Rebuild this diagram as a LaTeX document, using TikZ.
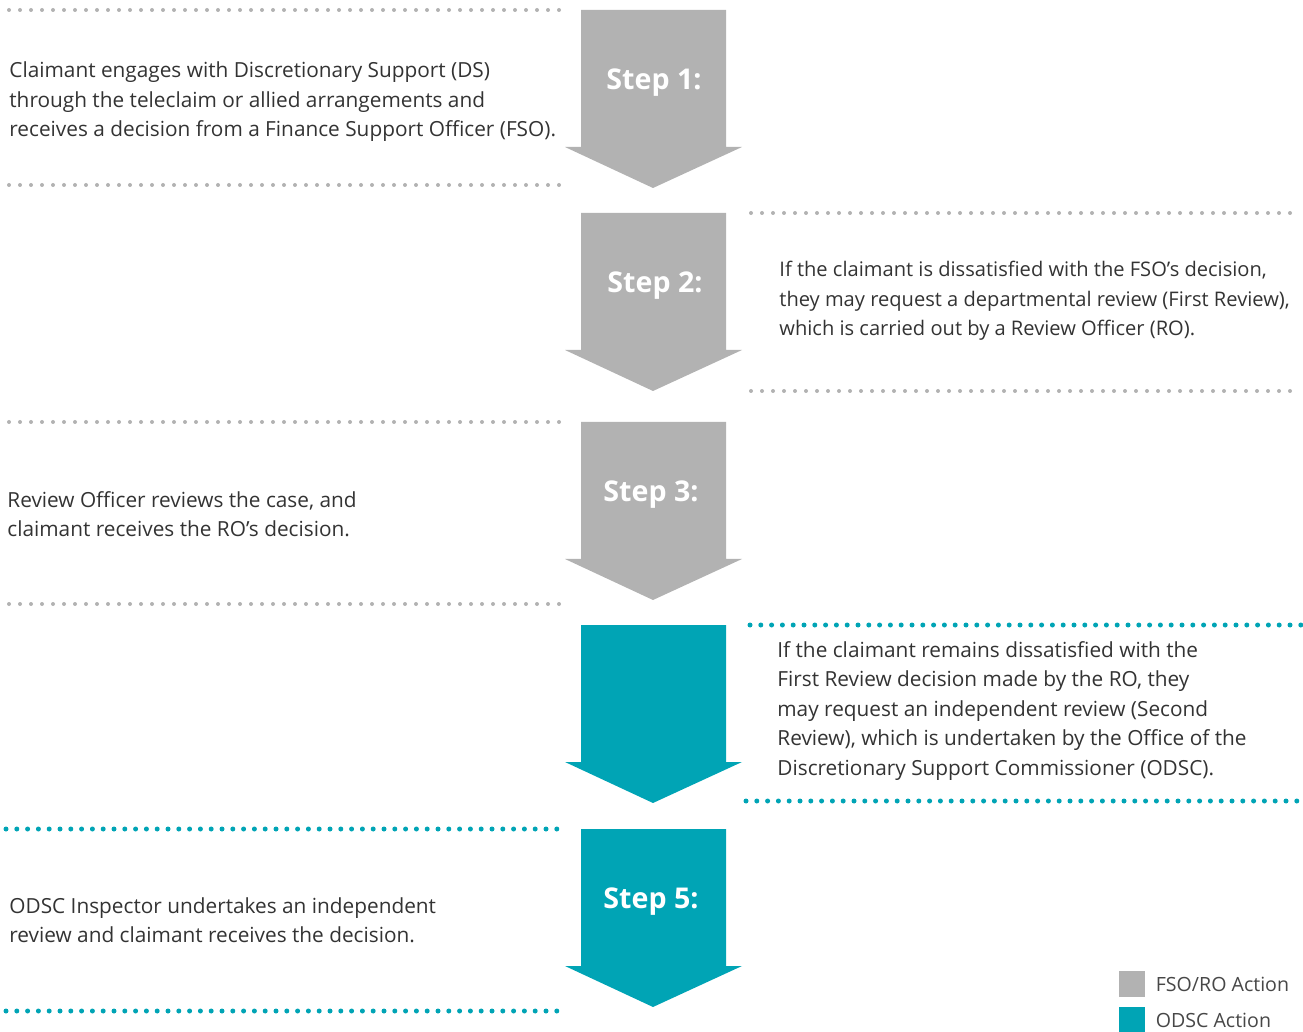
\documentclass[tikz,border=0pt]{standalone}
\usepackage{fontspec}
\setmainfont{Open Sans}
\usetikzlibrary{positioning}
\definecolor{fsogrey}{HTML}{B2B2B2}
\definecolor{odscteal}{HTML}{00A4B5}
\definecolor{bodytext}{HTML}{333333}
\tikzset{
  step label/.style={text=white,font=\fontsize{14.3}{16}\selectfont\bfseries},
  info text/.style={align=left,anchor=west,text=bodytext,inner sep=0pt,
    font=\fontsize{10.4}{14.75}\selectfont},
  key text/.style={info text,font=\fontsize{9.8}{12}\selectfont,text=bodytext!90},
  grey dots/.style={draw=fsogrey,line width=2pt,line cap=round,dash pattern=on 0pt off 5.5pt},
  teal dots/.style={draw=odscteal,line width=2.5pt,line cap=round,dash pattern=on 0pt off 5.4pt},
  key box/.style={fill=#1,minimum size=13pt,inner sep=0pt},
}

\begin{document}
\begin{tikzpicture}[x=0.5pt,y=-0.5pt]
\useasboundingbox (0,0) rectangle (1303,1032);

% the five arrows
\foreach \ya/\col in {10/fsogrey,213/fsogrey,422/fsogrey,625/odscteal,829/odscteal}
  \fill[\col] (581,\ya) -- (726,\ya) -- (726,\ya+137) -- (742,\ya+137)
    -- (653,\ya+178) -- (565,\ya+137) -- (581,\ya+137) -- cycle;

\node[step label] (s1) at (654,83) {Step 1:};
\node[step label] (s2) at (655,286) {Step 2:};
\node[step label] (s3) at (651,495) {Step 3:};
\node[step label] (s5) at (651,902) {Step 5:};

% separators
\draw[grey dots] (9,10) -- (562,10);
\draw[grey dots] (9,185) -- (562,185);
\draw[grey dots] (751,213) -- (1300,213);
\draw[grey dots] (751,391) -- (1300,391);
\draw[grey dots] (9,422) -- (562,422);
\draw[grey dots] (9,604) -- (562,604);
\draw[teal dots] (750,625) -- (1302,625);
\draw[teal dots] (746,801) -- (1298,801);
\draw[teal dots] (6,829) -- (558,829);
\draw[teal dots] (6,1011) -- (558,1011);

% texts
\node[info text] (ds) at (9,102) {Claimant engages with Discretionary Support (DS)\\
  through the teleclaim or allied arrangements and\\
  receives a decision from a Finance Support Officer (FSO).};
\node[info text,font=\fontsize{10.05}{14.75}\selectfont] (fr) at (779,301) {If the claimant is dissatisfied with the FSO’s decision,\\
  they may request a departmental review (First Review),\\
  which is carried out by a Review Officer (RO).};
\node[info text] (ro) at (7,514) {Review Officer reviews the case, and\\
  claimant receives the RO’s decision.};
\node[info text] (sr) at (777,711) {If the claimant remains dissatisfied with the\\
  First Review decision made by the RO, they\\
  may request an independent review (Second\\
  Review), which is undertaken by the Office of the\\
  Discretionary Support Commissioner (ODSC).};
\node[info text] (ir) at (9,920) {ODSC Inspector undertakes an independent\\
  review and claimant receives the decision.};

% key
\node[key box=fsogrey] (k1) at (1132,984) {};
\node[key box=odscteal] (k2) at (1132,1020) {};
\node[key text,right=5pt of k1] (k1t) {FSO/RO Action};
\node[key text,right=5pt of k2] (k2t) {ODSC Action};
\end{tikzpicture}
\end{document}
